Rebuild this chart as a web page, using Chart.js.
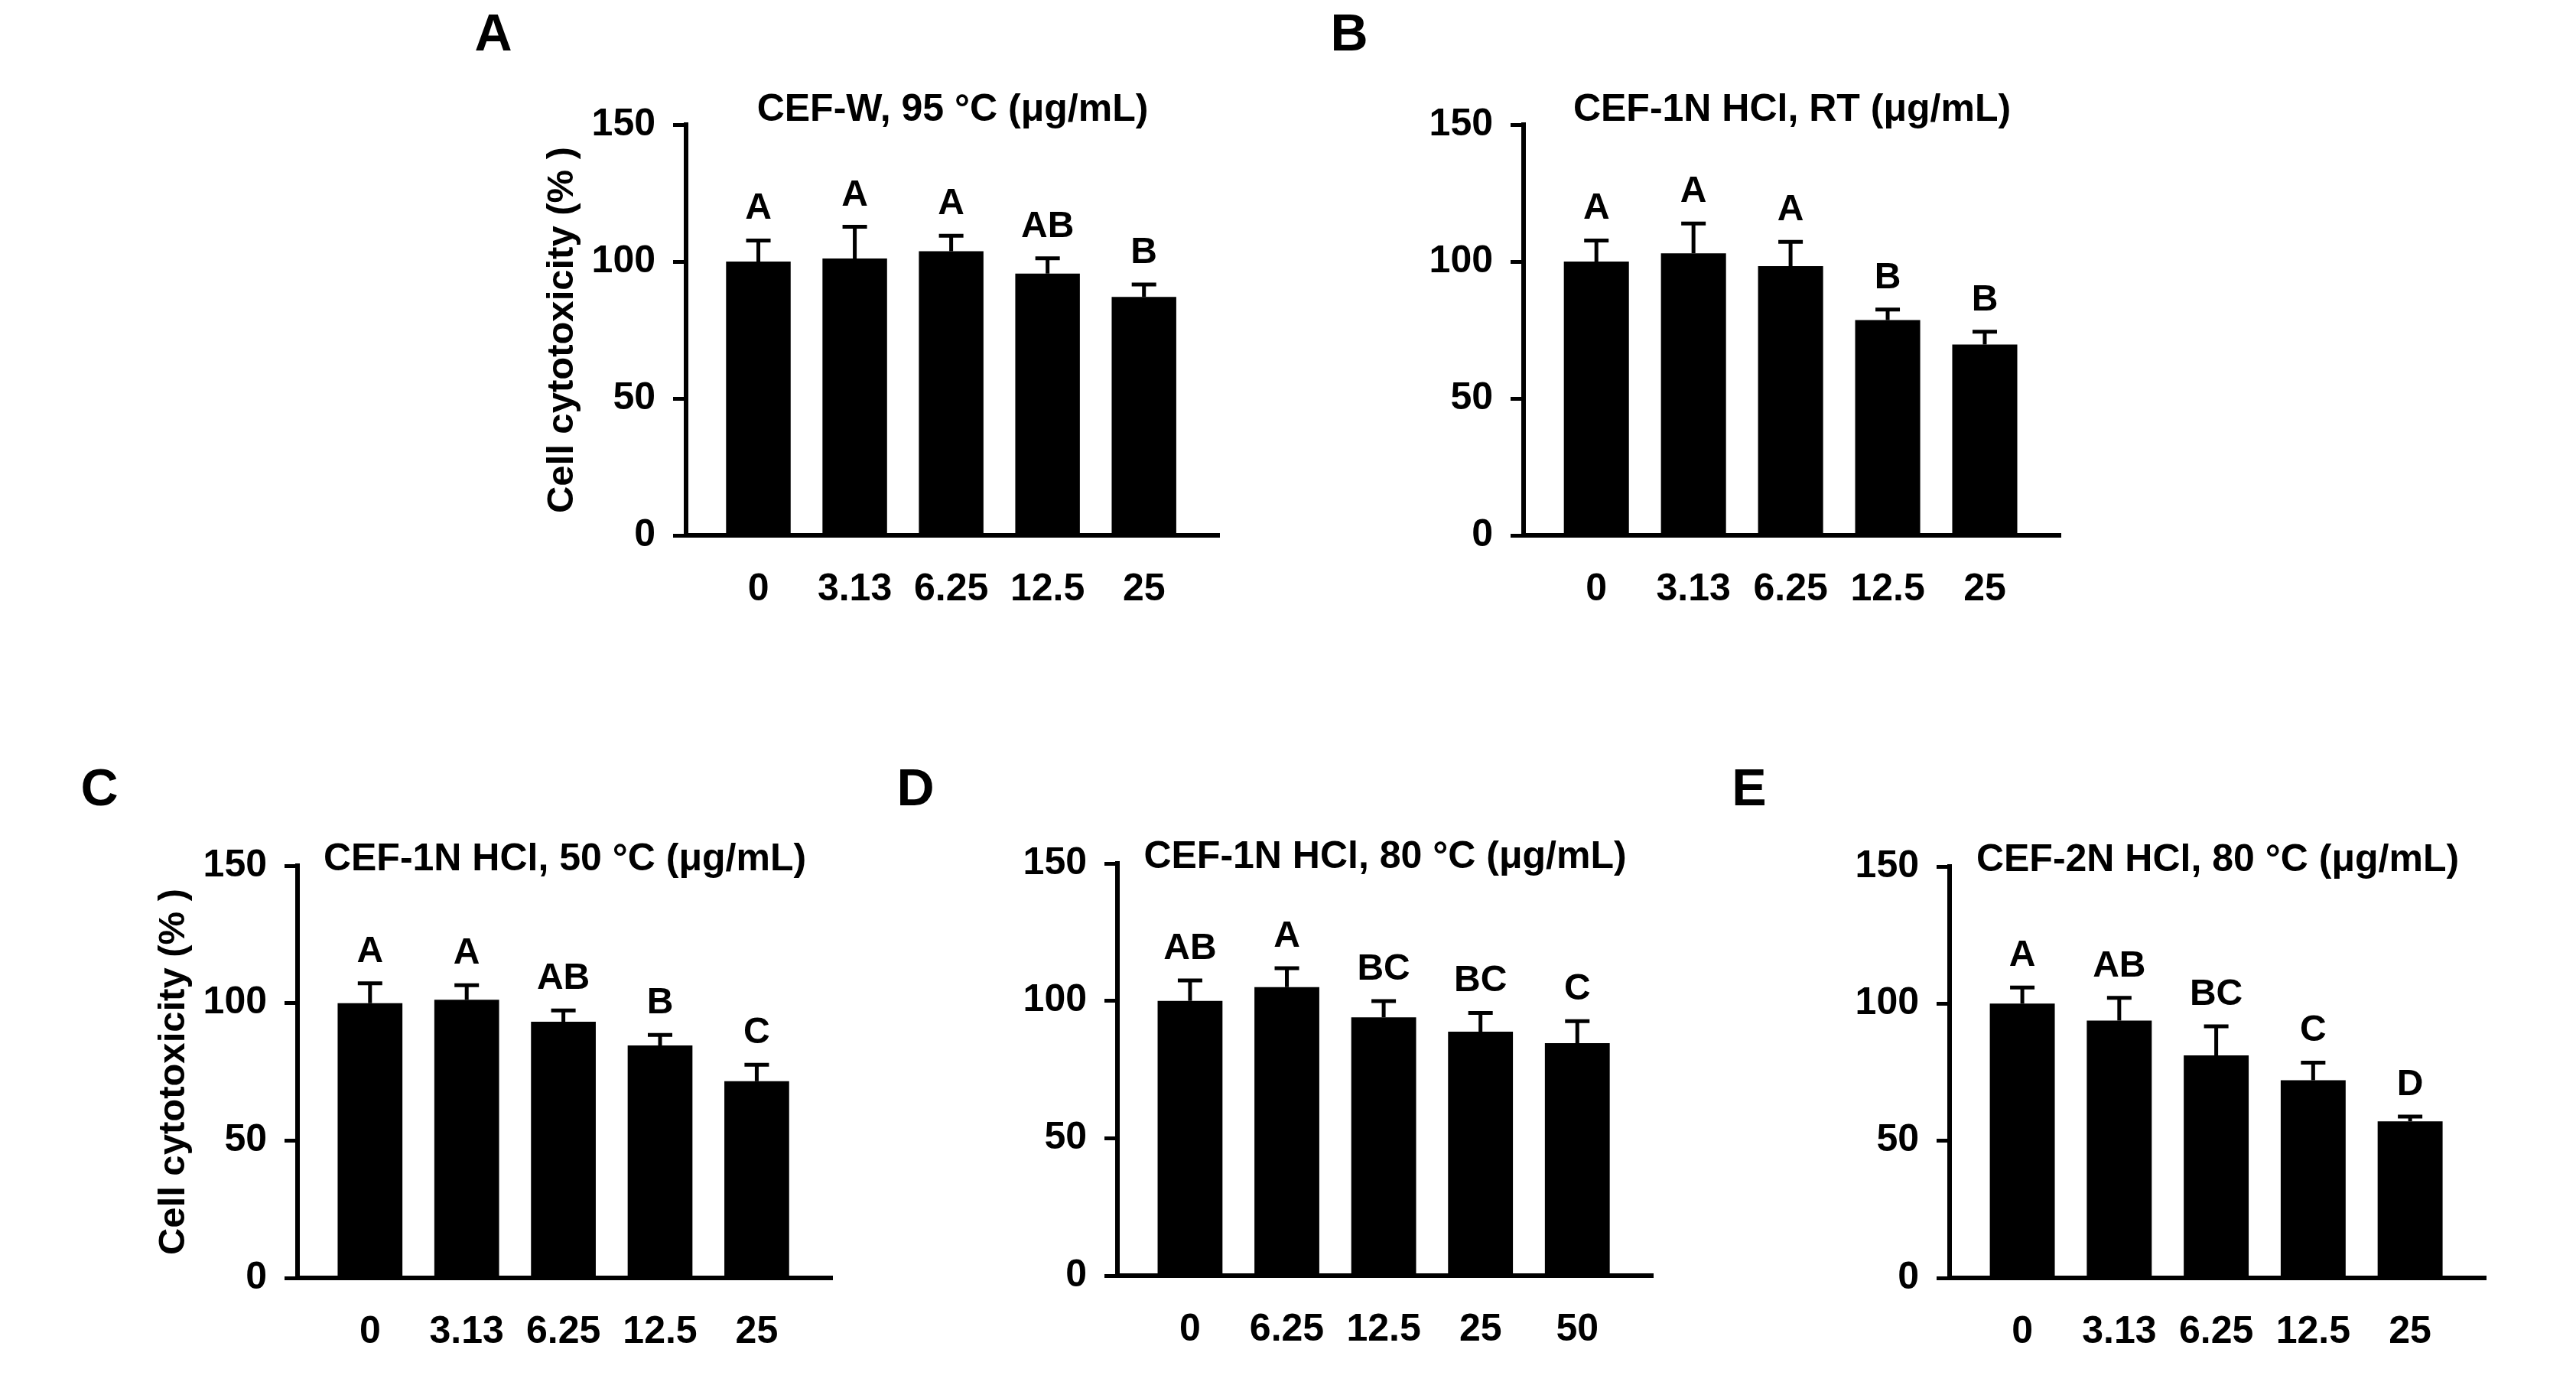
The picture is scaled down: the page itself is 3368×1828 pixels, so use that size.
<!DOCTYPE html>
<html>
<head>
<meta charset="utf-8">
<script src="https://cdn.jsdelivr.net/npm/chart.js@4.4.0/dist/chart.umd.min.js"></script>
<style>
  html, body { margin: 0; padding: 0; background: #fff; }
  #page { position: relative; width: 3368px; height: 1828px; overflow: hidden; background: #fff; }
  #page canvas { position: absolute; }
  .tag { position: absolute; font: bold 68px "Liberation Sans", Arial, sans-serif; line-height: 1; color: #000; transform: translateX(-50%); }
</style>
</head>
<body>
<div id="page"></div>
<script>
// tick labels
const doses = ["0", "3.13", "6.25", "12.5", "25"];
const dosesD = ["0", "6.25", "12.5", "25", "50"];
const yTicks = [0, 50, 100, 150];
const yTitle = "Cell cytotoxicity (% )";

// panel A
const titleA = "CEF-W, 95 °C (μg/mL)";
const valuesA = [100, 101.1, 103.8, 95.6, 87.1];
const errorsA = [7.7, 11.6, 5.6, 5.6, 4.5];
const groupsA = ["A", "A", "A", "AB", "B"];

// panel B
const titleB = "CEF-1N HCl, RT (μg/mL)";
const valuesB = [100, 103, 98.3, 78.6, 69.7];
const errorsB = [7.7, 10.9, 8.9, 3.9, 4.7];
const groupsB = ["A", "A", "A", "B", "B"];

// panel C
const titleC = "CEF-1N HCl, 50 °C (μg/mL)";
const valuesC = [100, 101.2, 93.2, 84.6, 71.6];
const errorsC = [7.2, 5.3, 4.1, 3.8, 6.0];
const groupsC = ["A", "A", "AB", "B", "C"];

// panel D
const titleD = "CEF-1N HCl, 80 °C (μg/mL)";
const valuesD = [100, 105, 94.0, 88.8, 84.6];
const errorsD = [7.4, 6.9, 5.9, 6.8, 8.0];
const groupsD = ["AB", "A", "BC", "BC", "C"];

// panel E
const titleE = "CEF-2N HCl, 80 °C (μg/mL)";
const valuesE = [100, 93.8, 81.1, 72.1, 57.1];
const errorsE = [5.9, 8.3, 10.6, 6.4, 1.7];
const groupsE = ["A", "AB", "BC", "C", "D"];

const FONT = '"Liberation Sans", Arial, sans-serif';
const Y_BOX = 200;   // width given to the y scale
const TOP_BOX = 62;  // room above the plot (padding + title)
const X_BOX = 120;   // height given to the x scale
const TITLE_SIZE = 50;
const TITLE_LH = 0.86;

const panels = [
  { tag: "A", tagX: 645, tagY: 41, axisX: 897, top: 163, zero: 700, endX: 1594, titleGap: 19, yTitle: true,
    title: titleA, labels: doses, values: valuesA, errors: errorsA, groups: groupsA },
  { tag: "B", tagX: 1764, tagY: 41, axisX: 1992, top: 163, zero: 700, endX: 2694, titleGap: 19, yTitle: false,
    title: titleB, labels: doses, values: valuesB, errors: errorsB, groups: groupsB },
  { tag: "C", tagX: 130, tagY: 1028, axisX: 389, top: 1132, zero: 1671, endX: 1088, titleGap: 8, yTitle: true,
    title: titleC, labels: doses, values: valuesC, errors: errorsC, groups: groupsC },
  { tag: "D", tagX: 1197, tagY: 1028, axisX: 1461, top: 1129, zero: 1668, endX: 2161, titleGap: 8, yTitle: false,
    title: titleD, labels: dosesD, values: valuesD, errors: errorsD, groups: groupsD },
  { tag: "E", tagX: 2287, tagY: 1028, axisX: 2549, top: 1133, zero: 1671, endX: 3250, titleGap: 8, yTitle: false,
    title: titleE, labels: doses, values: valuesE, errors: errorsE, groups: groupsE }
];

// whiskers (upper only) and letters of significance
const errorBars = {
  id: "errorBars",
  afterDatasetsDraw(chart, args, opts) {
    const ctx = chart.ctx;
    const meta = chart.getDatasetMeta(0);
    const y = chart.scales.y;
    ctx.save();
    ctx.strokeStyle = "#000";
    ctx.fillStyle = "#000";
    ctx.lineWidth = 5;
    ctx.font = "bold 48px " + FONT;
    ctx.textAlign = "center";
    ctx.textBaseline = "alphabetic";
    meta.data.forEach((bar, i) => {
      const yBar = y.getPixelForValue(opts.values[i]);
      const yTop = y.getPixelForValue(opts.values[i] + opts.errors[i]);
      ctx.beginPath();
      ctx.moveTo(bar.x, yBar);
      ctx.lineTo(bar.x, yTop);
      ctx.moveTo(bar.x - 16, yTop);
      ctx.lineTo(bar.x + 16, yTop);
      ctx.stroke();
      ctx.fillText(opts.groups[i], bar.x, yTop - 28);
    });
    ctx.restore();
  }
};

const page = document.getElementById("page");

function makePanel(p) {
  const plotW = p.endX - p.axisX;
  const plotH = p.zero - p.top;
  const lineH = TITLE_SIZE * TITLE_LH;
  const titleBottom = p.titleGap - lineH / 2;

  const cv = document.createElement("canvas");
  cv.width = Y_BOX + plotW + 20;
  cv.height = TOP_BOX + plotH + X_BOX;
  cv.style.left = (p.axisX - Y_BOX) + "px";
  cv.style.top = (p.top - TOP_BOX) + "px";
  page.appendChild(cv);

  const tag = document.createElement("div");
  tag.className = "tag";
  tag.textContent = p.tag;
  tag.style.left = p.tagX + "px";
  tag.style.top = (p.tagY - 33) + "px";
  page.appendChild(tag);

  new Chart(cv.getContext("2d"), {
    type: "bar",
    data: {
      datasets: [{
        data: p.values.map((v, i) => ({ x: i + 1, y: v })),
        backgroundColor: "#000",
        borderWidth: 0,
        barPercentage: 0.67,
        categoryPercentage: 1
      }]
    },
    options: {
      responsive: false,
      animation: false,
      devicePixelRatio: 1,
      layout: { padding: { top: TOP_BOX - lineH - titleBottom, right: 20, bottom: 0, left: 0 } },
      plugins: {
        legend: { display: false },
        tooltip: { enabled: false },
        title: {
          display: true,
          text: p.title,
          fullSize: false,
          color: "#000",
          font: { family: FONT, size: TITLE_SIZE, weight: "bold", lineHeight: TITLE_LH },
          padding: { top: 0, bottom: titleBottom }
        },
        errorBars: { values: p.values, errors: p.errors, groups: p.groups }
      },
      scales: {
        x: {
          type: "linear",
          offset: false,
          min: 0.25,
          max: 5.78,
          afterFit: s => { s.height = X_BOX; },
          grid: { display: false },
          border: { display: true, color: "#000", width: 6 },
          ticks: {
            stepSize: 1,
            includeBounds: false,
            autoSkip: false,
            maxRotation: 0,
            padding: 33,
            color: "#000",
            font: { family: FONT, size: 50, weight: "bold" },
            callback: v => p.labels[v - 1] ?? ""
          }
        },
        y: {
          min: yTicks[0],
          max: yTicks[yTicks.length - 1],
          afterFit: s => { s.width = Y_BOX; },
          grid: { drawOnChartArea: false, drawTicks: true, tickLength: 17, color: "#000", lineWidth: 5 },
          border: { display: true, color: "#000", width: 6 },
          ticks: {
            stepSize: yTicks[1] - yTicks[0],
            padding: 23,
            color: "#000",
            font: { family: FONT, size: 50, weight: "bold" }
          },
          title: {
            display: p.yTitle,
            text: yTitle,
            color: "#000",
            font: { family: FONT, size: 49, weight: "bold" },
            padding: { top: 9, bottom: 0 }
          }
        }
      }
    },
    plugins: [errorBars]
  });
}

panels.forEach(makePanel);
</script>
</body>
</html>
